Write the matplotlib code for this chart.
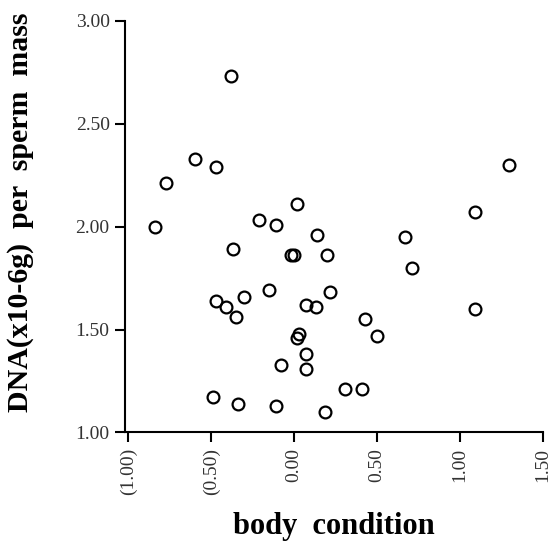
import matplotlib
matplotlib.use("Agg")
import matplotlib.pyplot as plt

plt.rcParams['font.family'] = ['Liberation Serif', 'DejaVu Serif']

# body condition (x) vs DNA per sperm mass (y)
body_cond = [-0.84, -0.77, -0.60, -0.47, -0.38, -0.37, 0.02, -0.21, -0.11,
             0.14, -0.02, 0.00, 0.20, -0.15, 0.22, -0.30, -0.47, -0.41,
             -0.35, 0.07, 0.13, 0.43, 0.50, 0.03, 0.02, 0.07, 0.07, -0.08,
             0.31, 0.41, -0.49, -0.34, -0.11, 0.19, 0.67, 0.71, 1.09, 1.09,
             1.30]
dna = [2.00, 2.21, 2.33, 2.29, 2.73, 1.89, 2.11, 2.03, 2.01,
       1.96, 1.86, 1.86, 1.86, 1.69, 1.68, 1.66, 1.64, 1.61,
       1.56, 1.62, 1.61, 1.55, 1.47, 1.48, 1.46, 1.38, 1.31, 1.33,
       1.21, 1.21, 1.17, 1.14, 1.13, 1.10, 1.95, 1.80, 2.07, 1.60,
       2.30]

xticks = [-1.0, -0.5, 0.0, 0.5, 1.0, 1.5]
xlabels = ['(1.00)', '(0.50)', '0.00', '0.50', '1.00', '1.50']
yticks = [1.0, 1.5, 2.0, 2.5, 3.0]
ylabels = ['1.00', '1.50', '2.00', '2.50', '3.00']

fig = plt.figure(figsize=(5.48, 5.48), dpi=100)
ax = fig.add_axes([0.228, 0.2108, 0.762, 0.7515])

ax.plot(body_cond, dna, linestyle='none', marker='o', markersize=8.5,
        markerfacecolor='none', markeredgecolor='black', markeredgewidth=1.6)

ax.set_xlim(-1.02, 1.5)
ax.set_ylim(1.0, 3.0)
ax.spines['top'].set_visible(False)
ax.spines['right'].set_visible(False)
ax.spines['left'].set_linewidth(1.5)
ax.spines['bottom'].set_linewidth(1.5)

ax.set_xticks(xticks)
ax.set_xticklabels(xlabels, rotation=90, fontsize=14, color='#333333')
ax.set_yticks(yticks)
ax.set_yticklabels(ylabels, fontsize=14, color='#333333')
ax.tick_params(axis='both', direction='out', length=7, width=1.5, pad=4)

ax.set_xlabel('body  condition', fontsize=22, fontweight='bold', labelpad=12)
ax.set_ylabel('DNA(x10-6g)  per  sperm  mass', fontsize=21.5,
              fontweight='bold', labelpad=30)
ax.yaxis.label.set_y(0.535)

fig.savefig('out.png', dpi=100)
